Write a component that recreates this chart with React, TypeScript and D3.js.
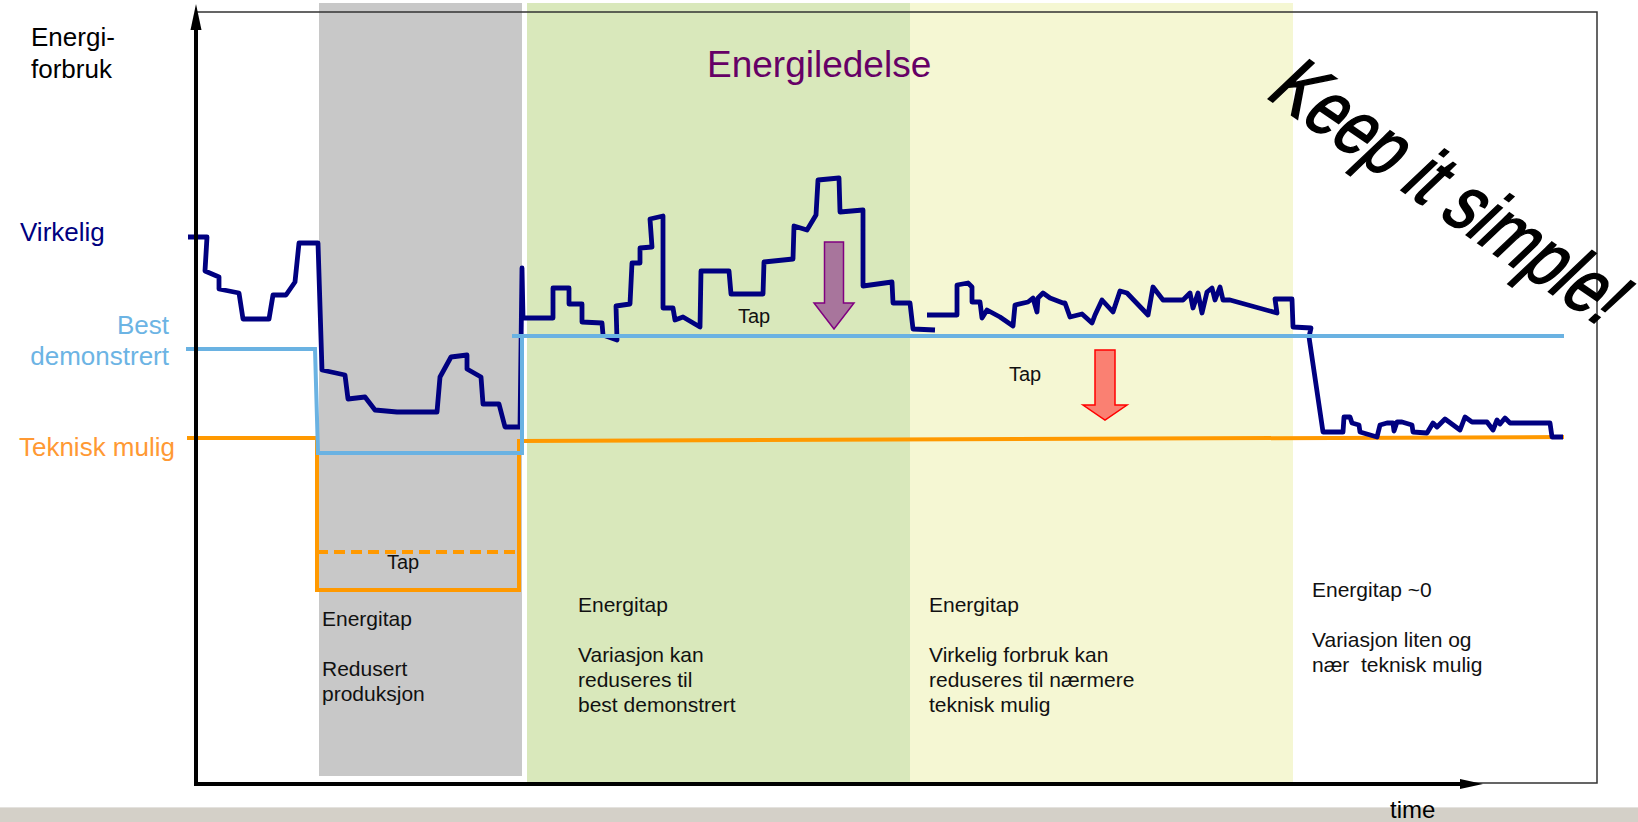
import React from 'react';
import * as d3 from 'd3';

const W = 1638;
const H = 822;

// x = time, y = energy (axis origin = 0,0)
const virkelig: [number, number][][] = [
  [
    [-8, 547], [11, 547], [9, 513], [23, 507], [23, 495], [43, 491], [47, 465], [73, 465],
    [77, 489], [90, 489], [99, 502], [103, 541], [122, 541], [126, 414], [149, 409], [152, 385],
    [169, 387], [179, 374], [201, 372], [241, 372], [244, 407], [255, 427], [271, 429], [271, 415],
    [285, 407], [287, 380], [303, 380], [309, 357], [324, 357], [326, 516], [327, 466],
    [357, 466], [357, 496], [373, 496], [373, 480], [386, 480], [386, 462], [406, 461], [407, 449],
    [421, 444], [420, 478], [434, 480], [436, 521], [444, 521], [444, 536], [456, 537], [454, 565],
    [467, 568], [467, 476], [477, 476], [479, 464], [487, 467], [504, 457], [505, 513], [533, 513],
    [535, 490], [567, 490], [568, 522], [597, 525], [598, 558], [611, 554], [620, 569], [622, 604],
    [643, 606], [644, 572], [667, 574], [667, 498], [696, 502], [697, 481], [714, 481], [717, 455],
    [739, 454],
  ],
  [
    [731, 469], [761, 469], [761, 499], [772, 501], [776, 497], [776, 482], [784, 482], [786, 466],
    [791, 474], [804, 467], [817, 458], [819, 479], [832, 482], [837, 486], [841, 472], [842, 486],
    [847, 491], [854, 486], [867, 481], [869, 481], [874, 467], [886, 470], [896, 461], [899, 469],
    [906, 484], [917, 472], [924, 493], [931, 491], [952, 469], [957, 497], [967, 484], [987, 484],
    [994, 491], [997, 476], [1002, 491], [1006, 471], [1011, 492], [1016, 496], [1019, 484],
    [1024, 497], [1027, 484], [1034, 484], [1081, 471], [1079, 485], [1096, 485], [1097, 457],
    [1115, 456], [1113, 447], [1127, 352], [1147, 352], [1148, 367], [1154, 367], [1156, 361],
    [1163, 359], [1164, 352], [1181, 347], [1184, 359], [1191, 361], [1197, 361], [1198, 353],
    [1201, 362], [1206, 362], [1216, 359], [1217, 352], [1231, 351], [1237, 361], [1241, 357],
    [1249, 365], [1264, 354], [1269, 367], [1276, 362], [1291, 362], [1297, 354], [1301, 364],
    [1304, 360], [1309, 366], [1314, 361], [1354, 361], [1356, 347], [1367, 347],
  ],
];

const bestDemonstrert: [number, number][][] = [
  [[-10, 435], [119, 435], [122, 331], [326, 331], [326, 448]],
  [[316, 448], [1368, 448]],
];

const tekniskMulig: [number, number][] = [
  [-9, 346], [121, 346], [121, 194], [323, 194], [323, 343], [1368, 347],
];
const tekniskMuligRedusert: [number, number][] = [[121, 232], [323, 232]];

// phases along the time axis
const phaseStart = [123, 331, 714];
const phaseEnd = [326, 714, 1097];
const phaseBottom = [8, 0, 0];
const phaseTop = 781;

// loss arrows: [time, from energy, to energy]
const arrowVariasjon: [number, number, number] = [638, 542, 455];
const arrowTeknisk: [number, number, number] = [909, 434, 364];

const notesRedusert = ['Energitap', '', 'Redusert', 'produksjon'];
const notesVariasjon = ['Energitap', '', 'Variasjon kan', 'reduseres til', 'best demonstrert'];
const notesTeknisk = ['Energitap', '', 'Virkelig forbruk kan', 'reduseres til nærmere', 'teknisk mulig'];
const notesSimple = ['Energitap ~0', '', 'Variasjon liten og', 'nær  teknisk mulig'];

const FONT = '"Liberation Sans", Arial, Helvetica, sans-serif';

function Arrow({ x, y0, y1, shaft, head, headLen, fill, stroke }: any) {
  const yb = y1 - headLen;
  const d = `M${x - shaft},${y0} L${x + shaft},${y0} L${x + shaft},${yb} L${x + head},${yb} L${x},${y1} L${x - head},${yb} L${x - shaft},${yb} Z`;
  return <path d={d} fill={fill} stroke={stroke} strokeWidth={1.5} />;
}

function Notes({ lines, x, y }: { lines: string[]; x: number; y: number }) {
  return (
    <text x={x} y={y} fontSize={21} fill="#111" fontFamily={FONT} style={{ whiteSpace: 'pre' }}>
      {lines.map((l, i) => (
        <tspan key={i} x={x} y={y + i * 25}>{l}</tspan>
      ))}
    </text>
  );
}

export default function App() {
  const x = d3.scaleLinear().domain([0, 1400]).range([196, 1596]);
  const y = d3.scaleLinear().domain([0, 780]).range([784, 4]);
  const line = d3.line<[number, number]>().x((d) => x(d[0])).y((d) => y(d[1]));

  const phaseColors = ['#c8c8c8', '#d9e8bb', '#f5f7d3'];

  return (
    <svg width={W} height={H} style={{ position: 'absolute', left: 0, top: 0 }} fontFamily={FONT}>
      <rect x={0} y={0} width={W} height={H} fill="#fff" />
      <rect x={0} y={807} width={W} height={15} fill="#d4d0c8" />
      <line x1={0} x2={W} y1={807.5} y2={807.5} stroke="#e4e2de" />

      {phaseStart.map((s, i) => (
        <rect key={i} x={x(s)} y={y(phaseTop)} width={x(phaseEnd[i]) - x(s)}
          height={y(phaseBottom[i]) - y(phaseTop)} fill={phaseColors[i]} />
      ))}

      {/* frame */}
      <path d={`M${x(0)},${y(772)} H${x(1401)} V${y(1)} H1470`} fill="none" stroke="#333" strokeWidth={1.5} />

      <text x={707} y={77} fontSize={37} fill="#660066">Energiledelse</text>

      <path d={line(tekniskMuligRedusert) || ''} fill="none" stroke="#ff9900" strokeWidth={4} strokeDasharray="11 6" />
      <path d={line(tekniskMulig) || ''} fill="none" stroke="#ff9900" strokeWidth={4} />
      {virkelig.map((seg, i) => (
        <path key={i} d={line(seg) || ''} fill="none" stroke="#000080" strokeWidth={4.8} strokeLinejoin="round" />
      ))}
      {bestDemonstrert.map((seg, i) => (
        <path key={i} d={line(seg) || ''} fill="none" stroke="#6ab2e2" strokeWidth={4} />
      ))}

      <Arrow x={x(arrowVariasjon[0])} y0={y(arrowVariasjon[1])} y1={y(arrowVariasjon[2])}
        shaft={9.5} head={20} headLen={26} fill="#a8759c" stroke="#800080" />
      <Arrow x={x(arrowTeknisk[0])} y0={y(arrowTeknisk[1])} y1={y(arrowTeknisk[2])}
        shaft={10} head={22} headLen={15} fill="#fa8072" stroke="#ff0000" />

      <text x={738} y={323} fontSize={20} fill="#111">Tap</text>
      <text x={1009} y={381} fontSize={20} fill="#111">Tap</text>
      <text x={387} y={569} fontSize={20} fill="#111">Tap</text>

      <Notes lines={notesRedusert} x={322} y={626} />
      <Notes lines={notesVariasjon} x={578} y={612} />
      <Notes lines={notesTeknisk} x={929} y={612} />
      <Notes lines={notesSimple} x={1312} y={597} />

      {/* axes */}
      <line x1={x(0)} x2={x(0)} y1={y(0) + 2} y2={26} stroke="#000" strokeWidth={4} />
      <path d={`M${x(0)},4 L${x(0) + 5.5},30 L${x(0) - 5.5},30 Z`} fill="#000" />
      <line x1={x(0) - 2} x2={1462} y1={y(0)} y2={y(0)} stroke="#000" strokeWidth={4} />
      <path d={`M1483,${y(0)} L1460,${y(0) - 5} L1460,${y(0) + 5} Z`} fill="#000" />

      {/* left labels */}
      <text x={31} y={46} fontSize={26} fill="#000">Energi-</text>
      <text x={31} y={78} fontSize={26} fill="#000">forbruk</text>
      <text x={20} y={241} fontSize={26} fill="#000080">Virkelig</text>
      <text x={169} y={334} fontSize={26} fill="#6cb4e4" textAnchor="end">Best</text>
      <text x={169} y={365} fontSize={26} fill="#6cb4e4" textAnchor="end">demonstrert</text>
      <text x={175} y={456} fontSize={26} fill="#ff9933" textAnchor="end">Teknisk mulig</text>

      <text x={1390} y={818} fontSize={24} fill="#000">time</text>

      <text transform="translate(1264,96) rotate(34.5) skewX(-12) scale(1,1.3)" fontSize={62}
        fill="#000" stroke="#000" strokeWidth={1.3}>Keep it simple!</text>
    </svg>
  );
}
